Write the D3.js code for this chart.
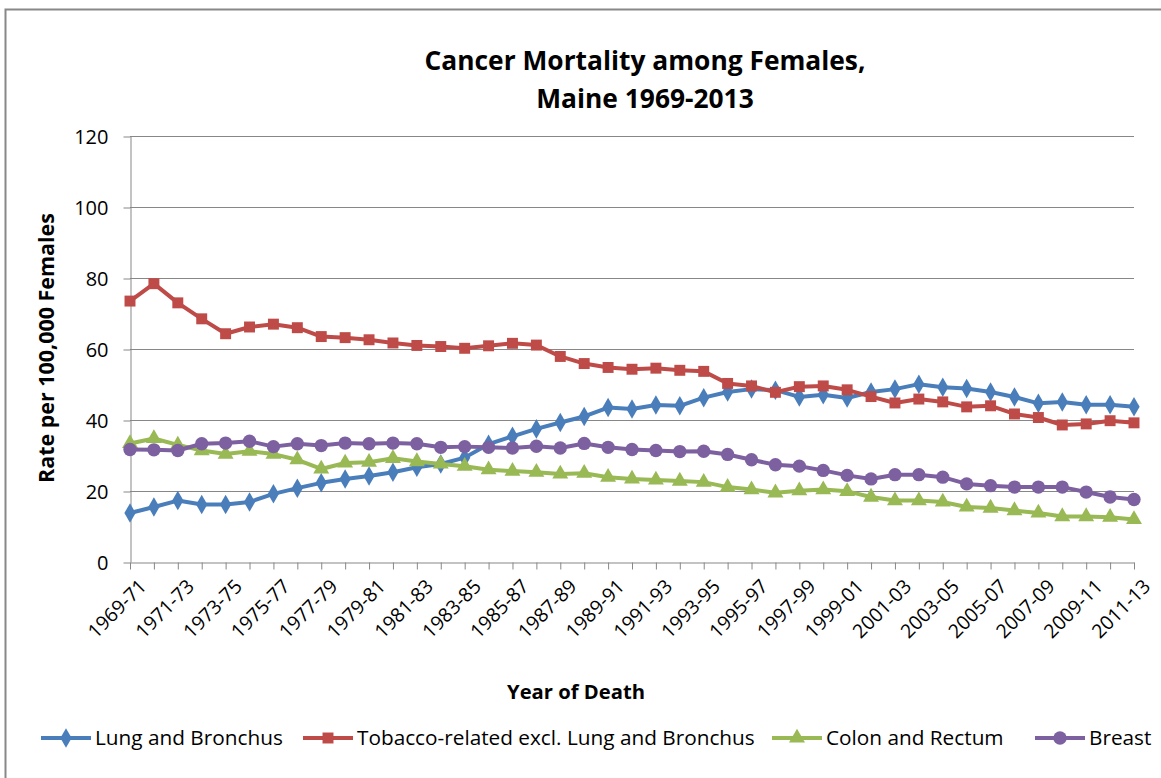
<!DOCTYPE html>
<html><head><meta charset="utf-8">
<script src="https://cdn.jsdelivr.net/npm/d3@7"></script>
<style>body{margin:0;background:#fff;} text{font-family:"Open Sans",Lato,sans-serif;fill:#000;}</style>
</head><body><svg id="c" width="1161" height="778"></svg>
<script>
const periods = ["1969-71","1970-72","1971-73","1972-74","1973-75","1974-76","1975-77","1976-78","1977-79","1978-80","1979-81","1980-82","1981-83","1982-84","1983-85","1984-86","1985-87","1986-88","1987-89","1988-90","1989-91","1990-92","1991-93","1992-94","1993-95","1994-96","1995-97","1996-98","1997-99","1998-00","1999-01","2000-02","2001-03","2002-04","2003-05","2004-06","2005-07","2006-08","2007-09","2008-10","2009-11","2010-12","2011-13"];
const lung = [13.8,15.5,17.3,16.2,16.2,16.9,19.2,20.8,22.3,23.4,24.2,25.3,26.7,27.6,29.4,33.2,35.4,37.5,39.3,41.0,43.5,43.1,44.2,44.0,46.3,47.9,48.7,48.4,46.5,47.1,46.2,47.9,48.7,50.1,49.2,48.9,47.9,46.5,44.7,45.1,44.3,44.3,43.7];
const tobacco = [73.5,78.4,73.0,68.5,64.3,66.2,67.0,66.0,63.5,63.2,62.6,61.7,61.0,60.7,60.2,60.9,61.6,61.1,57.9,55.9,54.8,54.3,54.6,54.0,53.7,50.3,49.6,47.8,49.4,49.6,48.5,46.6,44.8,45.9,45.1,43.7,44.0,41.7,40.7,38.6,38.9,39.8,39.2];
const colon = [33.4,34.8,33.0,31.4,30.4,31.2,30.4,28.8,26.2,27.9,28.1,29.2,28.3,27.6,27.0,26.0,25.6,25.3,24.8,25.0,23.9,23.4,23.1,22.8,22.5,21.1,20.4,19.5,20.1,20.4,19.9,18.3,17.3,17.3,16.9,15.5,15.2,14.5,13.8,12.8,12.8,12.6,12.0];
const breast = [31.7,31.6,31.4,33.3,33.5,34.0,32.5,33.3,32.8,33.5,33.3,33.5,33.3,32.3,32.5,32.3,32.1,32.6,32.1,33.4,32.3,31.7,31.4,31.1,31.2,30.3,28.8,27.4,27.0,25.8,24.4,23.4,24.6,24.6,23.9,22.0,21.5,21.1,21.1,21.1,19.7,18.3,17.6];
const seriesNames = ["Lung and Bronchus","Tobacco-related excl. Lung and Bronchus","Colon and Rectum","Breast"];
const colors = ["#4A7EBB","#BE4B48","#98B954","#7D60A0"];
const symbols = [d3.symbolDiamond, d3.symbolSquare, d3.symbolTriangle, d3.symbolCircle];
const symSizes = [110, 120, 110, 140];
const yTicks = [0,20,40,60,80,100,120];
const title = ["Cancer Mortality among Females,","Maine 1969-2013"];
const yTitle = "Rate per 100,000 Females";
const xTitle = "Year of Death";

const svg = d3.select("#c");
svg.append("rect").attr("x",5.5).attr("y",9.5).attr("width",1200).attr("height",800).attr("fill","#fff").attr("stroke","#888").attr("stroke-width",2);

function fit(sel, target){
  const w = sel.node().getComputedTextLength();
  const fs = parseFloat(sel.attr("font-size"));
  sel.attr("font-size", (fs*target/w).toFixed(2));
  return fs*target/w;
}

const x = d3.scalePoint().domain(periods).range([130,1134]);
const y = d3.scaleLinear().domain([0,120]).range([562,136]);

svg.append("g").selectAll("line").data(yTicks.filter(t=>t>0)).join("line")
  .attr("x1",130).attr("x2",1134).attr("y1",d=>y(d)+0.5).attr("y2",d=>y(d)+0.5)
  .attr("stroke","#878787").attr("stroke-width",1);

const ya = svg.append("g").attr("transform","translate(130.5,0)")
  .call(d3.axisLeft(y).tickValues(yTicks).tickSize(7).tickPadding(15).tickSizeOuter(0));
ya.select(".domain").attr("stroke","#878787");
ya.selectAll(".tick line").attr("stroke","#878787").attr("transform","translate(0,0.5)");
ya.selectAll(".tick text").attr("font-size",20).attr("font-family","Open Sans").attr("fill","#000").attr("dy","0.35em");

const xa = svg.append("g").attr("transform","translate(0,562.5)")
  .call(d3.axisBottom(x).tickSize(7).tickSizeOuter(0).tickFormat(""));
xa.select(".domain").attr("stroke","#878787");
xa.selectAll(".tick line").attr("stroke","#878787");
svg.append("g").selectAll("text").data(periods.filter((d,i)=>i%2===0)).join("text")
  .attr("transform",d=>`translate(${x(d)+8},${578}) rotate(-45)`)
  .attr("text-anchor","end").attr("dy","0.7em").attr("font-size",19.5).text(d=>d);

const all = [lung,tobacco,colon,breast];
const line = d3.line().x((d,i)=>x(periods[i])).y(d=>y(d));
all.forEach((vals,k)=>{
  const g = svg.append("g");
  g.append("path").datum(vals).attr("d",line).attr("fill","none").attr("stroke",colors[k]).attr("stroke-width",4).attr("stroke-linejoin","round");
  g.selectAll("path.m").data(vals).join("path").attr("class","m")
    .attr("transform",(d,i)=>`translate(${x(periods[i])},${y(d)})`)
    .attr("d",d3.symbol().type(symbols[k]).size(symSizes[k])).attr("fill",colors[k]);
});

const t1 = svg.append("text").attr("x",645).attr("y",70).attr("text-anchor","middle").attr("font-size",24).attr("font-weight","bold").text(title[0]);
const tfs = fit(t1, 441);
svg.append("text").attr("x",645).attr("y",108).attr("text-anchor","middle").attr("font-size",tfs).attr("font-weight","bold").text(title[1]);
const yt = svg.append("text").attr("transform","translate(54,348) rotate(-90)").attr("text-anchor","middle").attr("font-size",18).attr("font-weight","bold").text(yTitle);
fit(yt, 270);
const xt = svg.append("text").attr("x",576).attr("y",699).attr("text-anchor","middle").attr("font-size",19).attr("font-weight","bold").text(xTitle);
fit(xt, 138);

const lg = svg.append("g");
const probe = lg.append("text").attr("font-size",20).text(seriesNames[0]);
const lfs = fit(probe, 188); probe.remove();
const legendStarts = [41,303,772,1035];
seriesNames.forEach((n,k)=>{
  const g = lg.append("g").attr("transform",`translate(${legendStarts[k]},738)`);
  g.append("line").attr("x1",0).attr("x2",50).attr("stroke",colors[k]).attr("stroke-width",4);
  g.append("path").attr("transform","translate(25,0)").attr("d",d3.symbol().type(symbols[k]).size(symSizes[k])).attr("fill",colors[k]);
  g.append("text").attr("x",54).attr("dy","0.35em").attr("font-size",lfs).text(n);
});
</script></body></html>
